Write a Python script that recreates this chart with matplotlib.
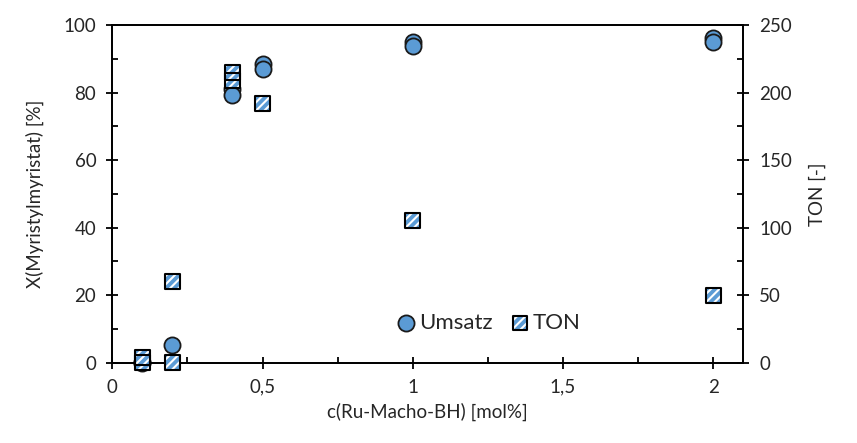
import matplotlib
matplotlib.use("Agg")
import matplotlib.pyplot as plt
from matplotlib.ticker import MultipleLocator, FuncFormatter

#--- DATA ---
conc_umsatz = [0.1, 0.1, 0.2, 0.4, 0.4, 0.5, 0.5, 1.0, 1.0, 2.0, 2.0]
umsatz = [0.3, 0.0, 5.2, 81.0, 79.2, 88.4, 86.9, 95.0, 93.8, 96.1, 95.0]

conc_ton = [0.1, 0.1, 0.2, 0.2, 0.4, 0.4, 0.5, 1.0, 2.0]
ton = [4, 0, 60, 0, 215, 209, 192, 105, 50]

x_ticks = [0, 0.5, 1, 1.5, 2]

#--- STYLE ---
plt.rcParams['font.family'] = ['Lato', 'DejaVu Sans']
plt.rcParams['hatch.linewidth'] = 1.5
blue = '#5B9BD5'
txt = '#262626'

fig = plt.figure(figsize=(8.57, 4.43), dpi=100)
ax = fig.add_axes([0.131, 0.1813, 0.7363, 0.7623])
ax2 = ax.twinx()

# Umsatz circles
ax.scatter(conc_umsatz, umsatz, s=135, marker='o', facecolor=blue,
           edgecolor='#1a1a1a', linewidth=1.3, zorder=3, clip_on=False)

# TON squares (hatched fill + black outline)
ax2.scatter(conc_ton, ton, s=115, marker='s', facecolor=blue, edgecolor='white',
            hatch='////', linewidth=0, zorder=3, clip_on=False)
ax2.scatter(conc_ton, ton, s=115, marker='s', facecolor='none',
            edgecolor='black', linewidth=1.5, zorder=4, clip_on=False)

#--- AXES ---
ax.set_xlim(0, 2.1)
ax.set_ylim(0, 100)
ax2.set_ylim(0, 250)

ax.set_xticks(x_ticks)
ax.xaxis.set_minor_locator(MultipleLocator(0.25))
ax.yaxis.set_major_locator(MultipleLocator(20))
ax.yaxis.set_minor_locator(MultipleLocator(10))
ax2.yaxis.set_major_locator(MultipleLocator(50))
ax2.yaxis.set_minor_locator(MultipleLocator(25))

comma = FuncFormatter(lambda v, p: f"{v:g}".replace('.', ','))
ax.xaxis.set_major_formatter(comma)

for a in (ax, ax2):
    for s in a.spines.values():
        s.set_linewidth(1.3)
        s.set_color('black')

ax.tick_params(axis='both', which='major', direction='inout', length=9, width=1.3,
               labelsize=13.5, colors='black', labelcolor=txt, pad=7)
ax.tick_params(axis='both', which='minor', direction='in', length=4.5, width=1.3)
ax2.tick_params(axis='y', which='major', direction='inout', length=9, width=1.3,
                labelsize=13.5, labelcolor=txt, pad=7)
ax2.tick_params(axis='y', which='minor', direction='in', length=4.5, width=1.3)

ax.set_xlabel('c(Ru-Macho-BH) [mol%]', fontsize=13.5, color=txt, labelpad=5)
ax.set_ylabel('X(Myristylmyristat) [%]', fontsize=13.5, color=txt, labelpad=14)
ax2.set_ylabel('TON [-]', fontsize=13.5, color=txt, labelpad=12)

#--- LEGEND ---
h1 = ax.scatter([], [], s=135, marker='o', facecolor=blue, edgecolor='#1a1a1a', linewidth=1.3)
h2a = ax.scatter([], [], s=115, marker='s', facecolor=blue, edgecolor='white',
                 hatch='////', linewidth=0)
h2b = ax.scatter([], [], s=115, marker='s', facecolor='none', edgecolor='black', linewidth=1.5)
leg = ax2.legend([h1, (h2a, h2b)], ['Umsatz', 'TON'], loc='center',
                 bbox_to_anchor=(0.595, 0.118), ncol=2, frameon=False, fontsize=16,
                 handletextpad=0.05, columnspacing=0.75, handlelength=1.0)
for t in leg.get_texts():
    t.set_color(txt)

fig.savefig('out.png', dpi=100)
